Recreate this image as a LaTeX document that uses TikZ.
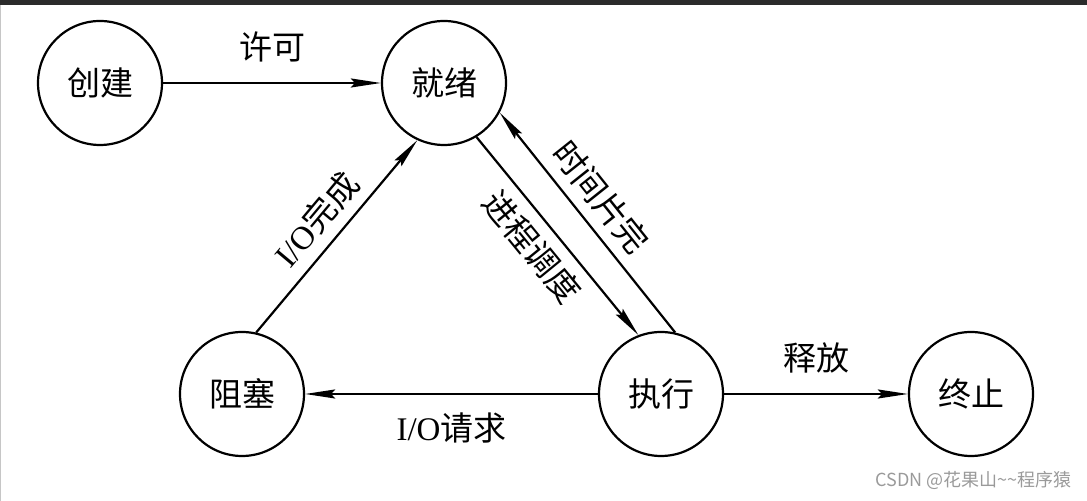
\documentclass[tikz,border=0pt]{standalone}
\usepackage{fontspec}
\setmainfont{Liberation Serif}
\newfontfamily\cjk{Noto Sans CJK SC}
\usetikzlibrary{arrows.meta,positioning}
\definecolor{topbar}{HTML}{2B2B2B}
\definecolor{marktext}{HTML}{9A9A9A}

\begin{document}
\begin{tikzpicture}[
    >={Stealth[length=15pt,width=4.5pt,inset=2pt]},
    x=0.5pt, y=0.5pt,
    state/.style={draw,circle,line width=1.1pt,minimum size=62pt,inner sep=0pt,
                  font=\fontsize{16.5pt}{18pt}\selectfont\cjk},
    trans/.style={->,line width=1.1pt},
    lbl/.style={font=\fontsize{16.5pt}{18pt}\selectfont\cjk,inner sep=2pt},
  ]
  \useasboundingbox (0,0) rectangle (1087,501);
  \fill[topbar] (0,496) rectangle (1087,501);
  \fill[gray!45] (0,0) rectangle (1,496);

  % --- states ---
  \node[state] (create) at (100,418) {创建};
  \node[state] (ready)  at (444,418) {就绪};
  \node[state] (block)  at (242,107) {阻塞};
  \node[state] (run)    at (661,107) {执行};
  \node[state] (stop)   at (971,107) {终止};

  % --- transitions ---
  \draw[trans] (create) -- node[lbl,above=8pt] (lpermit) {许可} (ready);
  \draw[trans] (run) -- node[lbl,below=7pt] (lioreq) {\textrm{I/O}请求} (block);
  \draw[trans] (run) -- node[lbl,above=8pt] (lfree) {释放} (stop);
  \draw[trans] (block.77) -- node[lbl,sloped,above=3pt] (liodone) {\textrm{I/O}完成} (ready.-115);
  \draw[trans] (ready.-59) -- node[lbl,sloped,below=3pt,pos=0.47] (lsched) {进程调度} (run.111);
  \draw[trans] (run.77) -- node[lbl,sloped,above=3pt,pos=0.54] (lslice) {时间片完} (ready.-28);

  % --- watermark ---
  \node[anchor=east,inner sep=0pt,text=marktext,font=\fontsize{9pt}{11pt}\selectfont\cjk]
    (mark) at (1072,21) {CSDN @花果山\textasciitilde\textasciitilde 程序猿};
\end{tikzpicture}
\end{document}
